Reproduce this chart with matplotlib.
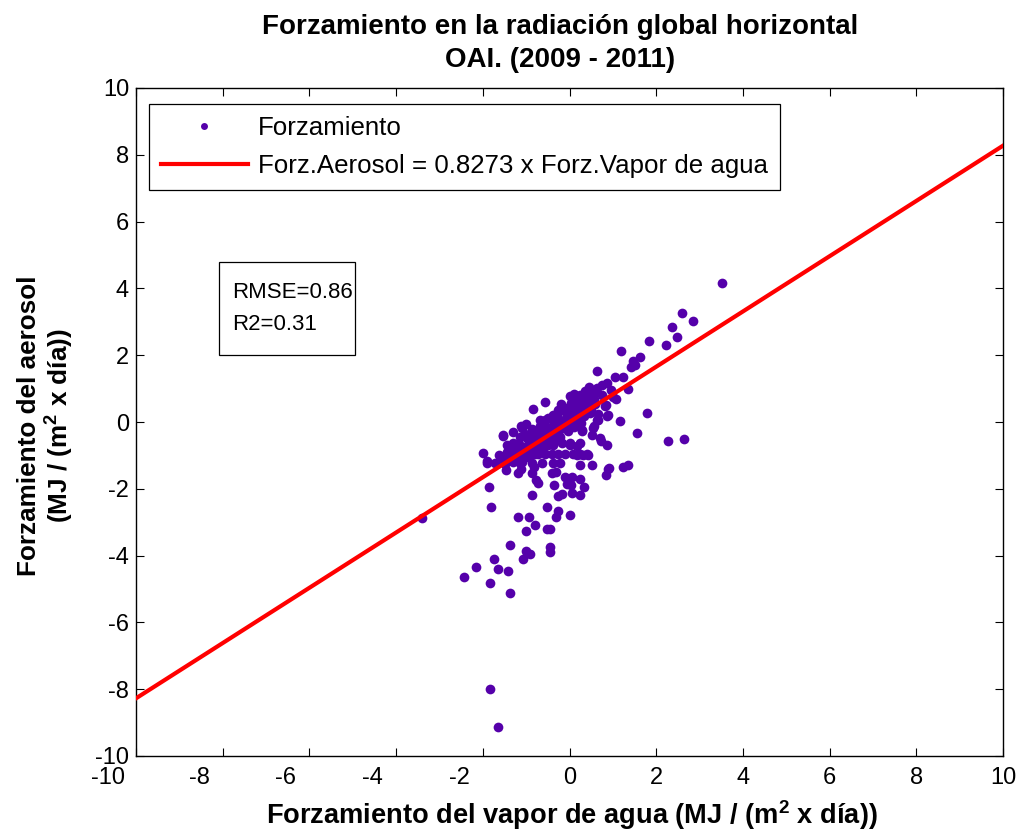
import matplotlib
matplotlib.use("Agg")
import matplotlib.pyplot as plt
from matplotlib.patches import Rectangle
from matplotlib.lines import Line2D
import numpy as np

plt.rcParams['font.family'] = ['Liberation Sans', 'DejaVu Sans']
plt.rcParams['mathtext.fontset'] = 'custom'
plt.rcParams['mathtext.rm'] = 'Liberation Sans'
plt.rcParams['mathtext.bf'] = 'Liberation Sans:bold'
plt.rcParams['axes.unicode_minus'] = False

# Daily forcing pairs: water vapour forcing (x) and aerosol forcing (y), MJ/(m2 day)
forz_vapor = [
    # high values
    3.51, 2.59, 2.86, 2.36, 2.49, 1.84, 2.22, 1.19, 1.62, 1.47, 1.43, 1.52,
    0.64, 1.24, 1.06, 1.34, 1.07, 0.84, 0.88, 1.16, 1.79, 1.56, 2.27, 2.63,
    # upper edge of the cloud
    -0.56, -0.84, 0.86, 0.74, 0.63, 0.51, 0.36, 0.24, 0.01, 0.09, 0.82, -0.26,
    -0.37, -0.49, -0.68, -1.10, -1.53, -1.11, 0.47, 0.66, 0.87, 0.65, 0.63,
    -1.30, -1.00, -0.20, 0.10, 0.45, 0.60, 0.75, 0.95, 1.00,
    # right side, below the fit
    0.73, 0.51, 0.28, 0.56, 0.28, 0.55, 0.70, 0.86, 0.24, 0.01, 0.17, 0.32,
    0.43, 0.24, 0.51, 0.90, 1.23, 1.34, 0.84, 0.88,
    # left side
    -1.99, -1.91, -1.85, -1.80, -1.53, -3.41,
    # negative tail
    -1.19, -0.93, -0.79, -1.01, -0.53, -0.27, -0.32, 0.00, -0.51, -0.45,
    -1.38, -1.01, -0.90, -1.07, -0.46, -0.46, -1.75, -2.16, -1.66, -1.43,
    -2.44, -1.84, -1.38, -0.87, -0.77, -0.73, -0.36, -0.27, -0.17, -0.11,
    0.05, 0.24, -0.06, 0.04, 0.33, 0.24, 0.06, -0.31, -0.41, -0.87, -1.19,
    -1.12, -0.82, -1.46, -1.84, -1.66,
    # rows around -1
    -0.87, -0.72, -0.56, -0.41, -0.26, -0.10, 0.09, 0.24, 0.40,
    -1.91, -1.49, -1.14, -0.87, -0.64, -0.37, -0.22,
    -0.37, -0.18, 0.01, 0.17, -0.76, -0.56,
    # core of the cloud
    -1.45, -1.31, -1.14, -1.02, -0.86, -0.69, -0.56, -0.41, -0.24, -0.11, 0.04, 0.21, 0.36,
    -1.62, -1.44, -1.29, -1.16, -0.99, -0.84, -0.71, -0.54, -0.39, -0.26, -0.09, 0.06, 0.19, 0.34, 0.51,
    -1.71, -1.56, -1.41, -1.24, -1.11, -0.94, -0.81, -0.66, -0.49, -0.36, -0.19, -0.06, 0.11, 0.24, 0.41, 0.56,
    -1.49, -1.36, -1.21, -1.04, -0.91, -0.74, -0.61, -0.44, -0.31, -0.14, 0.01, 0.16, 0.29, 0.46, 0.59,
    -1.31, -1.14, -0.99, -0.86, -0.69, -0.56, -0.39, -0.26, -0.09, 0.04, 0.21, 0.34, 0.49,
    -1.09, -0.96, -0.79, -0.66, -0.49, -0.34, -0.21, -0.04, 0.11, 0.26,
    -1.22, -0.93, -0.62, -0.33, -0.03, 0.27, 0.45,
    -1.33, -1.03, -0.73, -0.43, -0.13, 0.17, 0.52,
    -1.12, -0.82, -0.52, -0.22, 0.08, 0.38,
]
forz_aerosol = [
    # high values
    4.16, 3.25, 3.01, 2.85, 2.54, 2.42, 2.30, 2.13, 1.94, 1.83, 1.65, 1.70,
    1.52, 1.34, 1.35, 0.99, 0.69, 0.50, 0.20, 0.02, 0.27, -0.34, -0.58, -0.52,
    # upper edge of the cloud
    0.61, 0.39, 1.17, 1.12, 1.02, 0.97, 0.92, 0.82, 0.77, 0.67, 0.49, 0.37,
    0.22, 0.12, 0.07, -0.18, -0.41, -0.13, 0.27, 0.07, 0.19, 0.25, 0.07,
    -0.30, -0.05, 0.55, 0.85, 1.05, 0.90, 0.80, 0.95, 0.75,
    # right side, below the fit
    -0.58, -0.40, -0.28, -0.13, -0.23, -0.18, -0.48, -0.68, -0.63, -0.63, -0.98, -0.98,
    -0.98, -1.28, -1.28, -1.39, -1.34, -1.28, -1.60, -1.40,
    # left side
    -0.93, -1.18, -1.96, -2.55, -0.38, -2.87,
    # negative tail
    -2.84, -2.85, -3.09, -3.27, -2.55, -2.66, -2.85, -2.79, -3.20, -3.20,
    -3.68, -3.87, -3.94, -4.10, -3.74, -3.88, -4.10, -4.35, -4.41, -4.47,
    -4.64, -4.83, -5.12, -2.19, -1.75, -1.84, -1.88, -2.21, -2.16, -1.66,
    -1.66, -1.70, -1.87, -1.90, -1.96, -2.20, -2.13, -1.51, -1.52, -1.54, -1.52,
    -1.40, -1.34, -1.43, -8.00, -9.13,
    # rows around -1
    -0.97, -0.97, -0.97, -0.97, -0.97, -0.97, -0.97, -0.97, -0.97,
    -1.22, -1.22, -1.22, -1.22, -1.22, -1.22, -1.22,
    -0.68, -0.63, -0.68, -0.73, -0.78, -0.73,
    # core of the cloud
    -0.70, -0.63, -0.46, -0.35, -0.20, -0.11, 0.07, 0.16, 0.32, 0.41, 0.58, 0.64, 0.84,
    -0.99, -0.90, -0.74, -0.65, -0.48, -0.39, -0.23, -0.14, 0.03, 0.12, 0.29, 0.37, 0.54, 0.63, 0.80,
    -1.23, -1.10, -1.01, -0.84, -0.76, -0.59, -0.50, -0.33, -0.25, -0.08, 0.01, 0.18, 0.27, 0.43, 0.52, 0.69,
    -1.25, -1.08, -0.99, -0.82, -0.74, -0.57, -0.48, -0.31, -0.23, -0.06, 0.03, 0.20, 0.29, 0.45, 0.54,
    -1.19, -1.10, -0.93, -0.84, -0.68, -0.59, -0.42, -0.33, -0.17, -0.08, 0.09, 0.18, 0.35,
    -1.21, -1.04, -0.95, -0.78, -0.70, -0.53, -0.44, -0.27, -0.15, -0.02,
    -0.76, -0.52, -0.25, -0.01, 0.25, 0.50, 0.66,
    -1.00, -0.75, -0.50, -0.24, 0.01, 0.27, 0.57,
    -0.98, -0.72, -0.47, -0.21, 0.04, 0.30,
]

pendiente = 0.8273
rmse = 0.86
r2 = 0.31
ticks = [-10, -8, -6, -4, -2, 0, 2, 4, 6, 8, 10]
tick_labels = ['-10', '-8', '-6', '-4', '-2', '0', '2', '4', '6', '8', '10']

W, H = 1023, 835
fig = plt.figure(figsize=(W / 100, H / 100), dpi=100)
ax = fig.add_axes([136 / W, 1 - 756 / H, 867 / W, 668 / H])

purple = '#5500aa'
ax.plot(forz_vapor, forz_aerosol, linestyle='none', marker='o', markersize=7,
        markerfacecolor=purple, markeredgecolor=purple, markeredgewidth=0,
        zorder=2)

xf = np.array([-10.0, 10.0])
ax.plot(xf, pendiente * xf, color='red', lw=3, zorder=3)

ax.set_xlim(-10, 10)
ax.set_ylim(-10, 10)
ax.set_xticks(ticks)
ax.set_yticks(ticks)
ax.set_yticklabels(tick_labels)
ax.tick_params(direction='in', length=6, width=0.8, top=True, right=True,
               labelsize=17)
ax.tick_params(axis='x', labelbottom=False)
ax.tick_params(axis='y', pad=5)
for s in ax.spines.values():
    s.set_linewidth(1.0)

# x tick labels; the signed ones sit a little to the left of their tick
for t, lab in zip(ticks, tick_labels):
    dx = 0
    if lab.startswith('-'):
        dx = -20 if len(lab) > 2 else -17
    ax.annotate(lab, xy=(t, 0), xycoords=('data', 'axes fraction'),
                xytext=(dx, -8), textcoords='offset points',
                ha='center', va='top', fontsize=17, annotation_clip=False)

handles = [
    Line2D([], [], linestyle='none', marker='o', markersize=5,
           markerfacecolor=purple, markeredgewidth=0),
    Line2D([], [], color='red', lw=3),
]
labels = ['Forzamiento',
          'Forz.Aerosol = %.4f x Forz.Vapor de agua' % pendiente]
leg = ax.legend(handles, labels, loc='upper left',
                bbox_to_anchor=(13 / 867, 1 - 16 / 668), borderaxespad=0,
                fontsize=18.6, fancybox=False, framealpha=1, edgecolor='black',
                handlelength=3.35, handletextpad=0.4, borderpad=0.47,
                labelspacing=0.52)
leg.get_frame().set_linewidth(0.9)

# statistics box
x0, x1 = (219 - 136) / 867, (355 - 136) / 867
y0, y1 = 1 - (355 - 88) / 668, 1 - (262 - 88) / 668
ax.add_patch(Rectangle((x0, y0), x1 - x0, y1 - y0, transform=ax.transAxes,
                       facecolor='white', edgecolor='black', lw=0.9, zorder=4))
ax.text((232 - 136) / 867, 1 - (292 - 88) / 668, 'RMSE=%.2f' % rmse,
        transform=ax.transAxes, fontsize=16, va='center', ha='left', zorder=5)
ax.text((232 - 136) / 867, 1 - (324 - 88) / 668, 'R2=%.2f' % r2,
        transform=ax.transAxes, fontsize=16, va='center', ha='left', zorder=5)

fig.text(560 / W, 1 - 27 / H, 'Forzamiento en la radiación global horizontal',
         ha='center', va='center', fontsize=20, fontweight='bold')
fig.text(560 / W, 1 - 60 / H, 'OAI. (2009 - 2011)',
         ha='center', va='center', fontsize=20, fontweight='bold')

fig.text(572 / W, 1 - 815 / H,
         r'Forzamiento del vapor de agua (MJ / (m$^{\mathbf{2}}$ x día))',
         ha='center', va='center', fontsize=19.6, fontweight='bold')
fig.text(29 / W, 1 - 426 / H, 'Forzamiento del aerosol',
         ha='center', va='center', rotation=90, fontsize=18.8, fontweight='bold')
fig.text(59 / W, 1 - 426 / H, r'(MJ / (m$^{\mathbf{2}}$ x día))',
         ha='center', va='center', rotation=90, fontsize=18.8, fontweight='bold')

fig.savefig('out.png', dpi=100)
